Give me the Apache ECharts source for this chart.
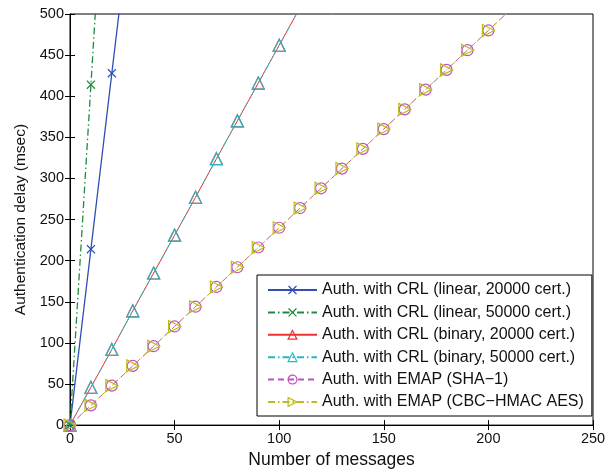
<!DOCTYPE html>
<html>
<head>
<meta charset="utf-8">
<script src="https://cdn.jsdelivr.net/npm/echarts@6/dist/echarts.min.js"></script>
<style>
  html, body { margin: 0; padding: 0; background: #fff; }
  #chart { width: 613px; height: 474px; }
</style>
</head>
<body>
<div id="chart"></div>
<script>
// x values (number of messages) for each curve
var msgLinear20 = [0, 10, 20, 30];
var delayLinear20 = [0, 214, 428, 642];

var msgLinear50 = [0, 10, 20];
var delayLinear50 = [0, 414, 828];

var msgBinary = [0, 10, 20, 30, 40, 50, 60, 70, 80, 90, 100, 110];
var delayBinary20 = [0, 46, 92, 139, 185, 231, 277, 324, 370, 416, 462, 508];
var delayBinary50 = [0, 46, 92, 139, 185, 231, 277, 324, 370, 416, 462, 508];

var msgEmap = [0, 10, 20, 30, 40, 50, 60, 70, 80, 90, 100, 110, 120, 130, 140, 150, 160, 170, 180, 190, 200, 210];
var delaySha = [0, 24, 48, 72, 96, 120, 144, 168, 192, 216, 240, 264, 288, 312, 336, 360, 384, 408, 432, 456, 480, 504];
var delayCbc = [0, 24, 48, 72, 96, 120, 144, 168, 192, 216, 240, 264, 288, 312, 336, 360, 384, 408, 432, 456, 480, 504];

var seriesNames = [
  'Auth. with CRL (linear, 20000 cert.)',
  'Auth. with CRL (linear, 50000 cert.)',
  'Auth. with CRL (binary, 20000 cert.)',
  'Auth. with CRL (binary, 50000 cert.)',
  'Auth. with EMAP (SHA\u22121)',
  'Auth. with EMAP (CBC\u2212HMAC AES)'
];
var colors = ['#2f4fb5', '#1e8a3e', '#f03030', '#28b8c0', '#c050c0', '#bcbc1c'];

function pairs(xs, ys) {
  return xs.map(function (x, i) { return [x, ys[i]]; });
}

var xMark = 'path://M0,1L1,0L5,4L9,0L10,1L6,5L10,9L9,10L5,6L1,10L0,9L4,5Z';
var triRight = 'path://M0,0L10,5L0,10Z';
var dashDot = [7, 3, 1.5, 3];
var font = 'Liberation Sans';
var clear = 'rgba(255,255,255,0)';

// legend entries: hollow markers except the x's
var legendData = seriesNames.map(function (n, i) {
  var d = { name: n };
  if (i >= 2) d.itemStyle = { color: clear, borderColor: colors[i], borderWidth: 1.2 };
  return d;
});

var chart = echarts.init(document.getElementById('chart'));
chart.setOption({
  animation: false,
  backgroundColor: '#fff',
  textStyle: { fontFamily: font },
  grid: { left: 70, right: 20, top: 14, bottom: 48, show: true, borderColor: '#000', borderWidth: 1 },
  legend: {
    orient: 'vertical',
    left: 257,
    top: 275,
    width: 328,
    padding: [6, 8, 5, 10],
    itemGap: 4.4,
    itemWidth: 49,
    itemHeight: 11,
    backgroundColor: '#fff',
    borderColor: '#000',
    borderWidth: 1,
    borderRadius: 0,
    textStyle: { fontSize: 16, lineHeight: 18, color: '#111', fontFamily: font },
    data: legendData
  },
  xAxis: [{
    type: 'value', min: 0, max: 250, interval: 50,
    name: 'Number of messages', nameLocation: 'middle', nameGap: 25,
    nameTextStyle: { fontSize: 17.5, color: '#111', fontFamily: font },
    axisLine: { show: true, lineStyle: { color: '#000' } },
    axisTick: { inside: true, length: 5, lineStyle: { color: '#000' } },
    axisLabel: { fontSize: 14.5, color: '#111', margin: 6 },
    splitLine: { show: false }
  }, {
    type: 'value', min: 0, max: 250, interval: 50, position: 'top',
    axisLine: { show: true, lineStyle: { color: '#000' } },
    axisTick: { inside: true, length: 5, lineStyle: { color: '#000' } },
    axisLabel: { show: false }, splitLine: { show: false }
  }],
  yAxis: [{
    type: 'value', min: 0, max: 500, interval: 50,
    name: 'Authentication delay (msec)', nameLocation: 'middle', nameGap: 41,
    nameTextStyle: { fontSize: 15.5, color: '#111', fontFamily: font },
    axisLine: { show: true, lineStyle: { color: '#000' } },
    axisTick: { inside: true, length: 5, lineStyle: { color: '#000' } },
    axisLabel: { fontSize: 14.5, color: '#111', margin: 6 },
    splitLine: { show: false }
  }, {
    type: 'value', min: 0, max: 500, interval: 50, position: 'right',
    axisLine: { show: true, lineStyle: { color: '#000' } },
    axisTick: { inside: true, length: 5, lineStyle: { color: '#000' } },
    axisLabel: { show: false }, splitLine: { show: false }
  }],
  series: [{
    name: seriesNames[0], type: 'line', data: pairs(msgLinear20, delayLinear20),
    symbol: xMark, symbolSize: 9, showAllSymbol: true,
    lineStyle: { color: colors[0], width: 1.3, type: 'solid' },
    itemStyle: { color: colors[0] }
  }, {
    name: seriesNames[1], type: 'line', data: pairs(msgLinear50, delayLinear50),
    symbol: xMark, symbolSize: 9, showAllSymbol: true,
    lineStyle: { color: colors[1], width: 1.3, type: dashDot },
    itemStyle: { color: colors[1] }
  }, {
    name: seriesNames[2], type: 'line', data: pairs(msgBinary, delayBinary20),
    symbol: 'triangle', symbolSize: 12, showAllSymbol: true,
    lineStyle: { color: colors[2], width: 1, type: 'solid' },
    itemStyle: { color: clear, borderColor: colors[2], borderWidth: 1.2 }
  }, {
    name: seriesNames[3], type: 'line', data: pairs(msgBinary, delayBinary50),
    symbol: 'triangle', symbolSize: 12, showAllSymbol: true,
    lineStyle: { color: colors[3], width: 1, type: dashDot },
    itemStyle: { color: clear, borderColor: colors[3], borderWidth: 1.2 }
  }, {
    name: seriesNames[4], type: 'line', data: pairs(msgEmap, delaySha),
    symbol: 'circle', symbolSize: 11, showAllSymbol: true,
    lineStyle: { color: colors[4], width: 1, type: [6, 4] },
    itemStyle: { color: clear, borderColor: colors[4], borderWidth: 1.2 }
  }, {
    name: seriesNames[5], type: 'line', data: pairs(msgEmap, delayCbc),
    symbol: triRight, symbolSize: 12, showAllSymbol: true,
    lineStyle: { color: colors[5], width: 1, type: dashDot },
    itemStyle: { color: clear, borderColor: colors[5], borderWidth: 1.2 }
  }]
});
</script>
</body>
</html>
